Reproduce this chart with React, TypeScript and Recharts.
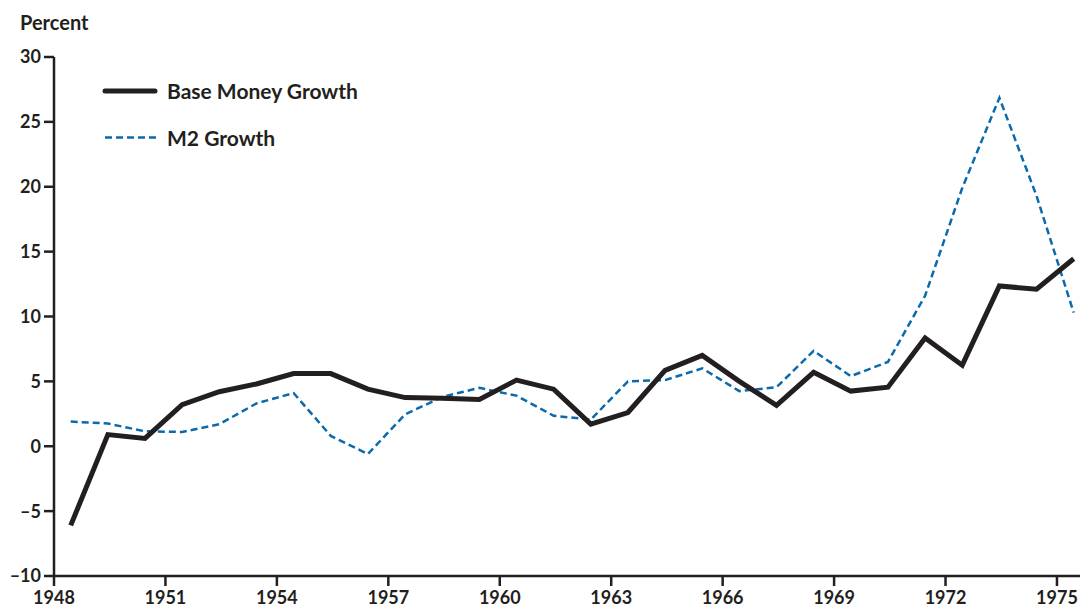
import React from 'react';
import { LineChart, Line, XAxis, YAxis } from 'recharts';

const years = [
  1948, 1949, 1950, 1951, 1952, 1953, 1954, 1955, 1956, 1957,
  1958, 1959, 1960, 1961, 1962, 1963, 1964, 1965, 1966, 1967,
  1968, 1969, 1970, 1971, 1972, 1973, 1974, 1975,
];

const baseMoneyGrowth = [
  -6.1, 0.9, 0.6, 3.2, 4.2, 4.8, 5.6, 5.6, 4.4, 3.75,
  3.7, 3.6, 5.1, 4.4, 1.7, 2.6, 5.85, 7.0, 5.0, 3.15,
  5.7, 4.25, 4.55, 8.35, 6.25, 12.35, 12.1, 14.45,
];

const m2Growth = [
  1.9, 1.75, 1.15, 1.1, 1.7, 3.3, 4.1, 0.8, -0.6, 2.45,
  3.8, 4.5, 3.9, 2.35, 2.05, 5.0, 5.1, 6.0, 4.25, 4.55,
  7.35, 5.4, 6.5, 11.6, 19.9, 26.85, 19.3, 10.3,
];

const xTicks = [1948, 1951, 1954, 1957, 1960, 1963, 1966, 1969, 1972, 1975];
const yTicks = [-10, -5, 0, 5, 10, 15, 20, 25, 30];

const MID_YEAR = 0.45;

const data = years.map((y, i) => ({
  x: y + MID_YEAR,
  base: baseMoneyGrowth[i],
  m2: m2Growth[i],
}));

const INK = '#231f20';
const BLUE = '#0b6aab';
const FONT = 'Lato, "Open Sans", sans-serif';

const tickStyle = { fill: INK, fontSize: 18, fontFamily: FONT, fontWeight: 700 };

const fmtY = (v: number) => (v < 0 ? '\u2013' + Math.abs(v) : String(v));

const textStyle: React.CSSProperties = {
  position: 'absolute',
  fontFamily: FONT,
  fontWeight: 700,
  color: INK,
  whiteSpace: 'nowrap',
};

export default function App() {
  return (
    <div style={{ position: 'absolute', left: 0, top: 0, width: 1080, height: 609, background: '#fff' }}>
      <LineChart width={1080} height={609} data={data} margin={{ top: 57, right: 0, bottom: 0, left: 0 }}>
        <XAxis
          dataKey="x"
          type="number"
          domain={[1948, 1975.62]}
          ticks={xTicks}
          allowDataOverflow
          height={33}
          tickSize={10}
          tickMargin={5}
          tick={tickStyle}
          stroke={INK}
          strokeWidth={2.5}
          tickLine={{ stroke: INK, strokeWidth: 2.5 }}
        />
        <YAxis
          type="number"
          domain={[-10, 30]}
          ticks={yTicks}
          width={54}
          tickSize={10}
          tickMargin={3}
          tick={tickStyle}
          tickFormatter={fmtY}
          stroke={INK}
          strokeWidth={2.5}
          tickLine={{ stroke: INK, strokeWidth: 2.5 }}
        />
        <Line
          type="linear"
          dataKey="m2"
          stroke={BLUE}
          strokeWidth={2.5}
          strokeDasharray="7 4"
          dot={false}
          activeDot={false}
          isAnimationActive={false}
        />
        <Line
          type="linear"
          dataKey="base"
          stroke={INK}
          strokeWidth={5}
          dot={false}
          activeDot={false}
          isAnimationActive={false}
        />
      </LineChart>
      <div style={{ ...textStyle, left: 20, top: 10, fontSize: 20, lineHeight: '24px' }}>Percent</div>
      <svg style={{ position: 'absolute', left: 100, top: 80 }} width={60} height={70}>
        <line x1={5} y1={11} x2={55} y2={11} stroke={INK} strokeWidth={5} strokeLinecap="round" />
        <line x1={5} y1={57.5} x2={56} y2={57.5} stroke={BLUE} strokeWidth={2.5} strokeDasharray="7 4" />
      </svg>
      <div style={{ ...textStyle, left: 167, top: 78, fontSize: 21, lineHeight: '26px' }}>Base Money Growth</div>
      <div style={{ ...textStyle, left: 167, top: 125, fontSize: 21, lineHeight: '26px' }}>M2 Growth</div>
    </div>
  );
}
